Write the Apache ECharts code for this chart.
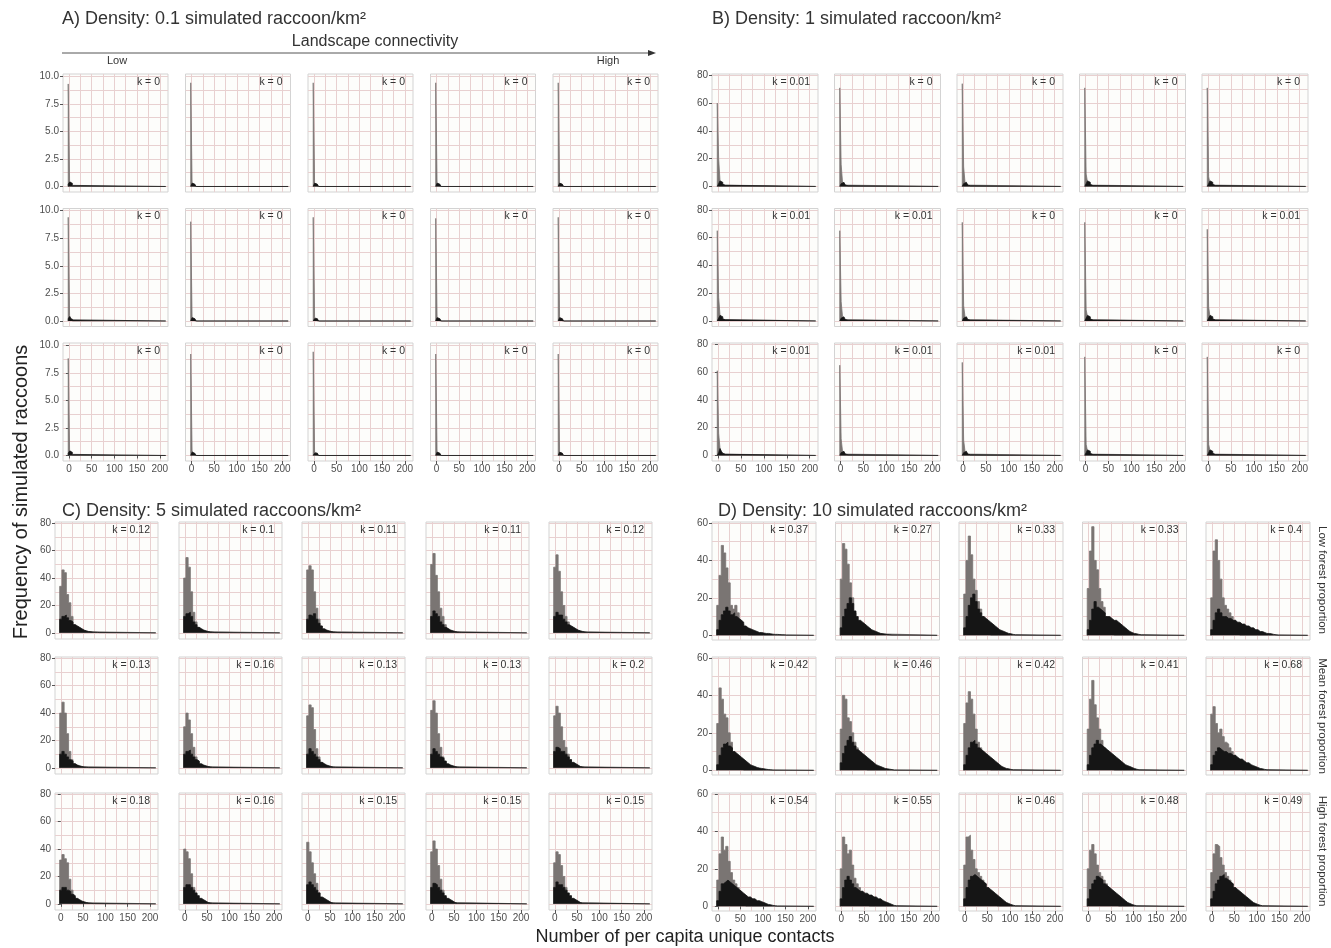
<!DOCTYPE html>
<html><head><meta charset="utf-8">
<script src="https://cdn.jsdelivr.net/npm/echarts/dist/echarts.min.js"></script>
<style>html,body{margin:0;padding:0;background:#fff}#chart{width:1331px;height:948px}</style>
</head><body><div id="chart"></div>
<script>
// ---------------- DATA ----------------
const xGrid = [0,25,50,75,100,125,150,175,200];
const xTicks = [0,50,100,150,200];
const yGridA = [0,1.25,2.5,3.75,5,6.25,7.5,8.75,10];
const yTicksA = [0,2.5,5,7.5,10];
const yGridB = [0,10,20,30,40,50,60,70,80];
const yTicksB = [0,20,40,60,80];
const yGridD = [0,10,20,30,40,50,60];
const yTicksD = [0,20,40,60];

const titles = ['A) Density: 0.1 simulated raccoon/km²','B) Density: 1 simulated raccoon/km²',
                'C) Density: 5 simulated raccoons/km²','D) Density: 10 simulated raccoons/km²'];
const stripLabels = ['Low forest proportion','Mean forest proportion','High forest proportion'];

const kA = ['0','0','0','0','0', '0','0','0','0','0', '0','0','0','0','0'];
const kB = ['0.01','0','0','0','0', '0.01','0.01','0','0','0.01', '0.01','0.01','0.01','0','0'];
const kC = ['0.12','0.1','0.11','0.11','0.12', '0.13','0.16','0.13','0.13','0.2', '0.18','0.16','0.15','0.15','0.15'];
const kD = ['0.37','0.27','0.33','0.33','0.4', '0.42','0.46','0.42','0.41','0.68', '0.54','0.55','0.46','0.48','0.49'];

// histogram bins: narrow bins (A, B) start at -1.5 width 3; wide bins (C, D) start at -2.5 width 5
const binNarrow = {start:-1.5, width:3};
const binWide = {start:-2.5, width:5};
const xLast = 213;

const grayA = [[9.3,0.5,0.3],[9.4,0.3,0.2],[9.4,0.3,0.2],[9.4,0.3,0.2],[9.4,0.3,0.2],
               [9.4,0.5,0.2],[9.0,0.3,0.2],[9.4,0.3,0.2],[9.3,0.3,0.2],[9.4,0.3,0.2],
               [8.8,0.5,0.3],[9.2,0.4,0.2],[9.4,0.3,0.2],[9.2,0.3,0.2],[9.2,0.3,0.2]];
const blackA = [[0.2,0.4,0.3,0.1],[0.1,0.3,0.2,0.1],[0.1,0.3,0.2,0.1],[0.1,0.3,0.2,0.1],[0.1,0.3,0.2,0.1],
                [0.2,0.4,0.2,0.1],[0.1,0.3,0.2,0.1],[0.1,0.2,0.2,0.1],[0.1,0.3,0.2,0.1],[0.1,0.3,0.2,0.1],
                [0.2,0.4,0.3,0.1],[0.1,0.3,0.2,0.1],[0.1,0.2,0.2,0.1],[0.1,0.3,0.2,0.1],[0.1,0.3,0.2,0.1]];

const grayB = [[60,20,4,1],[71,16,3,1],[74,14,3,1],[71,9,3,1],[71,7,2,1],
               [65,17,4,1],[65,14,3,1],[71,11,3,1],[71,8,3,1],[66,10,3,1],
               [61,16,5,1],[65,12,3,1],[67,11,3,1],[71,8,3,1],[71,8,3,1]];
const blackB = [[0.5,2,4,3,1.5,0.8,0.3],[0.5,2,3,2,1,0.5,0.2],[0.5,2,3,2,1,0.5,0.2],[0.5,2,4,3,1.5,0.6,0.2],[0.5,2,4,3,1.5,0.6,0.2],
                [0.5,2,4,3,1.5,0.8,0.3],[0.5,2,3,2,1,0.5,0.2],[0.5,2,3,2,1,0.5,0.2],[0.5,2,4,3,1.5,0.6,0.2],[0.5,2,4,3,1.5,0.6,0.2],
                [0.5,2,5,3,1.5,0.8,0.3],[0.5,2,3,2,1,0.5,0.2],[0.5,2,3,2,1,0.5,0.2],[0.5,2,4,3,1.5,0.6,0.2],[0.5,2,4,3,1.5,0.6,0.2]];

const grayC = [
  [34,46,44,28,22,12,6,3,1],
  [40,55,48,30,15,8,4,2,1],
  [46,49,46,30,18,10,5,2,1],
  [50,58,42,30,18,12,6,3,1],
  [48,57,45,30,20,12,8,4,2,1],
  [40,48,40,25,12,6,3,1],
  [30,40,35,25,15,8,4,2,1],
  [38,46,44,28,14,8,4,2,1],
  [42,49,40,25,15,8,4,2,1],
  [38,45,40,30,20,15,10,6,3,1],
  [32,36,33,30,18,10,5,2,1],
  [40,38,33,22,12,7,4,2,1],
  [45,38,30,22,15,8,4,2,1],
  [38,46,40,28,18,10,5,2,1],
  [30,38,36,28,20,12,6,3,1]];
const blackC = [
  [10,12,13,11,9,8,6,5,4,3,2,1.5,1,0.8,0.5,0.4,0.3,0.2],
  [12,14,15,12,8,6,4,3,2,1.5,1,0.6,0.4,0.2],
  [10,13,12,14,10,7,5,3,2,1.5,1,0.6,0.4,0.2],
  [12,16,14,12,8,6,4,3,2,1.5,1,0.6,0.4,0.3],
  [12,15,13,13,10,8,6,5,4,3,2,1.5,1,0.6,0.3],
  [10,12,10,8,6,5,3,2,1.5,1,0.6,0.4,0.2],
  [10,12,13,10,8,6,5,3,2,1.5,1,0.6,0.3],
  [10,14,12,10,8,6,4,3,2,1.5,1,0.5,0.3],
  [10,14,12,10,8,7,5,3,2,1.5,1,0.5,0.3],
  [12,15,14,12,12,10,8,6,4,3,2,1,0.6,0.3],
  [10,12,12,10,9,7,6,4,3,2,1.5,1,0.6,0.4,0.2],
  [12,14,14,12,10,8,6,4,3,2,1,0.6,0.3],
  [14,16,14,12,10,8,5,4,3,2,1,0.5,0.3],
  [12,15,14,12,10,8,6,4,3,2,1,0.5],
  [12,16,14,14,12,10,8,6,4,3,2,1,0.5]];

const grayD = [
  [16,32,48,44,36,28,16,14,16,12,8,6,4,2],
  [30,49,46,38,28,20,12,8,5,3,2,1],
  [22,40,53,43,30,24,18,14,10,6,4,2],
  [25,45,58,40,35,25,18,15,10,8,5,3],
  [20,45,51,40,30,20,16,14,12,10,8,6,4],
  [25,44,38,30,28,20,15,10,7,5,3,2],
  [22,40,38,28,26,20,15,12,8,5,3,2],
  [25,36,42,38,30,22,15,12,10,7,5,3],
  [22,38,48,35,28,22,16,12,10,8,5,3],
  [30,34,25,20,22,18,15,14,12,10,8,6,4,2],
  [14,28,37,30,32,24,18,14,12,10,8,5,3],
  [20,37,33,28,30,22,15,12,10,8,6,4,2],
  [22,37,38,30,25,20,18,16,14,12,10,8,6,4,2],
  [20,30,33,28,22,18,16,14,12,10,8,6,4,2],
  [18,28,33,32,26,22,18,16,14,12,10,8,6,4,2]];
const blackD = [
  [3,8,11,13,15,13,11,12,10,9,8,7,5,4,3.5,3,2.5,2,1.5,1.5,1.2,1,1,0.8,0.6,0.5,0.5,0.4,0.3,0.3,0.2],
  [4,10,14,17,20,17,13,10,8,7,6,5,4,3,2.5,2,1.5,1,0.8,0.6,0.4,0.3,0.2],
  [4,10,16,20,22,18,14,12,10,9,8,7,6,5,4,3,2.5,2,1.5,1,0.8,0.5,0.3],
  [3,8,14,18,15,14,13,12,10,10,9,8,8,7,6,5,4,3,2,1.5,1,0.8,0.5,0.3],
  [3,8,12,14,12,10,10,9,9,8,8,7,7,6,6,5,5,4,4,3,3,2,2,1.5,1,1,0.8,0.5,0.3,0.2],
  [3,8,12,14,15,13,12,10,9,8,7,6,5,4,3,2.5,2,1.5,1.2,1,0.8,0.6,0.4,0.3,0.2],
  [4,9,13,16,18,15,13,11,10,9,8,7,6,5,4,3,2.5,2,1.5,1,0.8,0.6,0.4,0.2],
  [3,8,12,15,16,14,12,11,10,9,8,7,6,5,4,3,2,1.5,1,0.8,0.5,0.3],
  [3,8,12,14,16,14,13,12,11,10,9,8,7,6,5,4,3,2.5,2,1.5,1,0.6,0.3],
  [3,8,10,12,11,10,10,9,9,8,8,7,6,6,5,4,4,3,2.5,2,1.5,1,0.8,0.5,0.3],
  [3,8,12,13,14,13,12,11,10,9,8,7,6,5,5,4,4,3,3,2.5,2,1.5,1,0.8,0.5,0.3,0.2],
  [4,10,14,16,14,12,10,9,8,8,7,7,6,6,5,5,4,4,3,2.5,2,1.5,1,0.5,0.3],
  [4,10,14,16,17,16,15,14,13,12,10,9,8,7,6,5,4,3,2,1.5,1,0.6,0.3],
  [4,9,12,14,16,15,14,12,11,10,9,8,7,6,5,4,3,2,1.5,1,0.6,0.3],
  [4,8,12,14,16,17,15,14,13,12,10,9,8,7,6,5,4,3,2,1.5,1,0.6,0.3]];

// ---------------- LAYOUT / STYLE ----------------
const FONT = '"Liberation Sans", Arial, sans-serif';
const NARROW = '"Liberation Sans Narrow", "Liberation Sans", Arial, sans-serif';
const GRIDCOL = '#e8d0d0';
const GRAY = '#7a7573';
const BLACK = '#151515';

const panels = [
  {title:titles[0], tx:62, ty:19, lefts:[63,185.5,308,430.5,553], width:105, tops:[74,208.5,343], height:118,
   yMin:-0.5, yMax:10.2, yGrid:yGridA, yTicks:yTicksA, yFmt:v=>v.toFixed(1), gray:grayA, black:blackA, k:kA, bin:binNarrow},
  {title:titles[1], tx:712, ty:19, lefts:[712,834.5,957,1079.5,1202], width:106, tops:[74,208.5,343], height:118,
   yMin:-4, yMax:81, yGrid:yGridB, yTicks:yTicksB, yFmt:v=>String(v), gray:grayB, black:blackB, k:kB, bin:binNarrow},
  {title:titles[2], tx:62, ty:511, lefts:[55,179,302,426,549], width:103, tops:[522,657,793], height:117,
   yMin:-4.5, yMax:81, yGrid:yGridB, yTicks:yTicksB, yFmt:v=>String(v), gray:grayC, black:blackC, k:kC, bin:binWide},
  {title:titles[3], tx:718, ty:511, lefts:[712,835.5,959,1082.5,1206], width:104, tops:[522,657,793], height:118,
   yMin:-2.5, yMax:60.5, yGrid:yGridD, yTicks:yTicksD, yFmt:v=>String(v), gray:grayD, black:blackD, k:kD, bin:binWide}
];

function toSteps(vals, bin) {
  const pts = [[bin.start, 0]];
  vals.forEach((v, i) => pts.push([bin.start + i * bin.width, v]));
  pts.push([bin.start + vals.length * bin.width, 0]);
  pts.push([xLast, 0]);
  return pts;
}

const grids = [], xAxes = [], yAxes = [], series = [], graphics = [];

panels.forEach(p => {
  graphics.push({type:'text', x:p.tx, y:p.ty, style:{text:p.title, font:'18px ' + FONT, fill:'#333',
    align:'left', verticalAlign:'middle', textAlign:'left', textVerticalAlign:'middle'}});
  for (let r = 0; r < 3; r++) {
    for (let c = 0; c < 5; c++) {
      const idx = r * 5 + c;
      const gi = grids.length;
      const left = p.lefts[c], top = p.tops[r];
      grids.push({left:left, top:top, width:p.width, height:p.height, show:true,
        backgroundColor:'#fdfdfb', borderColor:'#d3d3d3', borderWidth:1});
      const xi = xAxes.length;
      xAxes.push({gridIndex:gi, type:'value', position:'bottom', min:-13, max:218, axisLine:{show:false},
        axisTick:{show:false, customValues:xGrid}, axisLabel:{show:false},
        splitLine:{show:true, lineStyle:{color:GRIDCOL, width:1}}});
      if (r === 2) {
        xAxes.push({gridIndex:gi, type:'value', position:'bottom', offset:0, min:-13, max:218, axisLine:{show:false},
          axisTick:{show:true, length:3, customValues:xTicks, lineStyle:{color:'#555'}},
          axisLabel:{show:true, customValues:xTicks, margin:3, fontSize:10, color:'#4d4d4d', fontFamily:FONT},
          splitLine:{show:false}});
      }
      const yi = yAxes.length;
      yAxes.push({gridIndex:gi, type:'value', position:'left', min:p.yMin, max:p.yMax, axisLine:{show:false},
        axisTick:{show:false, customValues:p.yGrid}, axisLabel:{show:false},
        splitLine:{show:true, lineStyle:{color:GRIDCOL, width:1}}});
      if (c === 0) {
        yAxes.push({gridIndex:gi, type:'value', position:'left', offset:0, min:p.yMin, max:p.yMax, axisLine:{show:false},
          axisTick:{show:true, length:3, customValues:p.yTicks, lineStyle:{color:'#555'}},
          axisLabel:{show:true, customValues:p.yTicks, margin:4, fontSize:10, color:'#4d4d4d', fontFamily:FONT,
            formatter:p.yFmt},
          splitLine:{show:false}});
      }
      series.push({type:'line', xAxisIndex:xi, yAxisIndex:yi, data:toSteps(p.gray[idx], p.bin), step:'end',
        symbol:'none', silent:true, animation:false, lineStyle:{color:GRAY, width:0.8},
        areaStyle:{color:GRAY, opacity:1}, z:2});
      series.push({type:'line', xAxisIndex:xi, yAxisIndex:yi, data:toSteps(p.black[idx], p.bin), step:'end',
        symbol:'none', silent:true, animation:false, lineStyle:{color:BLACK, width:0.8},
        areaStyle:{color:BLACK, opacity:1}, z:3});
      graphics.push({type:'text', x:left + p.width - 8, y:top + 8, z:10,
        style:{text:'k = ' + p.k[idx], font:'10.5px ' + NARROW, fill:'#333',
          align:'right', verticalAlign:'middle', textAlign:'right', textVerticalAlign:'middle'}});
    }
  }
});

// connectivity arrow and texts
graphics.push({type:'line', shape:{x1:62, y1:53, x2:650, y2:53}, style:{stroke:'#555', lineWidth:1}});
graphics.push({type:'polygon', shape:{points:[[656,53],[648,50],[648,56]]}, style:{fill:'#333'}});
graphics.push({type:'text', x:375, y:42, style:{text:'Landscape connectivity', font:'16px ' + FONT, fill:'#333',
  align:'center', verticalAlign:'middle', textAlign:'center', textVerticalAlign:'middle'}});
graphics.push({type:'text', x:117, y:61, style:{text:'Low', font:'11px ' + FONT, fill:'#333',
  align:'center', verticalAlign:'middle', textAlign:'center', textVerticalAlign:'middle'}});
graphics.push({type:'text', x:608, y:61, style:{text:'High', font:'11px ' + FONT, fill:'#333',
  align:'center', verticalAlign:'middle', textAlign:'center', textVerticalAlign:'middle'}});
// axis titles
graphics.push({type:'text', x:21, y:492, rotation:Math.PI/2, style:{text:'Frequency of simulated raccoons',
  font:'20px ' + FONT, fill:'#222', align:'center', verticalAlign:'middle', textAlign:'center', textVerticalAlign:'middle'}});
graphics.push({type:'text', x:685, y:937, style:{text:'Number of per capita unique contacts',
  font:'18px ' + FONT, fill:'#222', align:'center', verticalAlign:'middle', textAlign:'center', textVerticalAlign:'middle'}});
// strip labels
[580, 716, 851].forEach((yc, i) => {
  graphics.push({type:'text', x:1322, y:yc, rotation:-Math.PI/2, style:{text:stripLabels[i],
    font:'11.5px ' + FONT, fill:'#333', align:'center', verticalAlign:'middle', textAlign:'center', textVerticalAlign:'middle'}});
});

const chart = echarts.init(document.getElementById('chart'), null, {renderer:'canvas'});
chart.setOption({
  backgroundColor:'#ffffff',
  animation:false,
  grid:grids, xAxis:xAxes, yAxis:yAxes, series:series, graphic:graphics
});
</script>
</body></html>
